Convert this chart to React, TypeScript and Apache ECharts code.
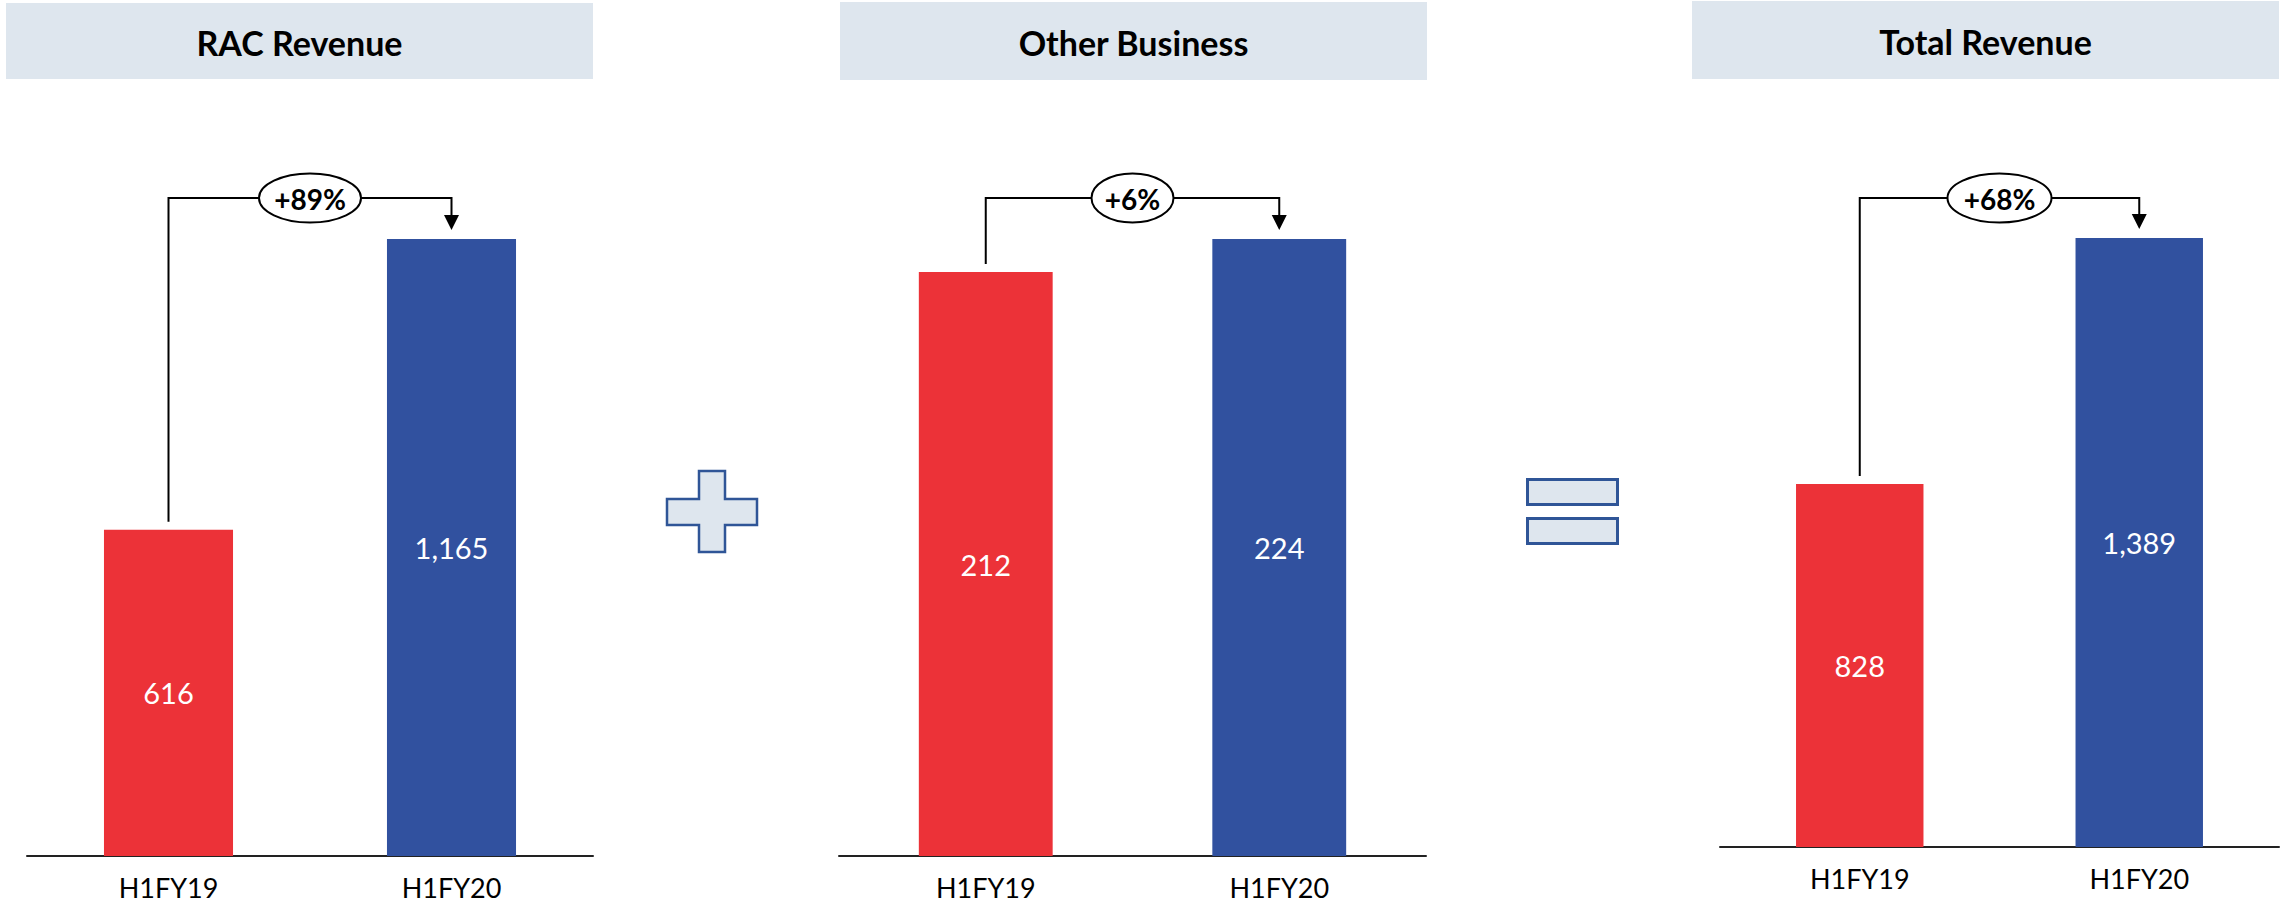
import React, { useEffect, useRef } from 'react';
import * as echarts from 'echarts';

// ---- Data ----
const categories = ['H1FY19', 'H1FY20'];
const panelTitles = ['RAC Revenue', 'Other Business', 'Total Revenue'];
const racRevenue = [616, 1165];
const otherBusiness = [212, 224];
const totalRevenue = [828, 1389];
const growthLabels = ['+89%', '+6%', '+68%'];

// ---- Layout / style ----
const FONT = 'Lato, "Noto Sans", sans-serif';
const RED = '#EC3238';
const BLUE = '#31519F';
const HEADER_BG = '#DEE6EE';
const SYMBOL_STROKE = '#2F5597';
const barColors = [RED, BLUE];

const panelSeries = [racRevenue, otherBusiness, totalRevenue];

const grids = [
  { left: 27, top: 239, width: 566, height: 617 },
  { left: 839, top: 239, width: 587, height: 617 },
  { left: 1720, top: 238, width: 559, height: 609 },
];
const headers = [
  { x: 6, y: 3, w: 587, h: 76 },
  { x: 840, y: 2, w: 587, h: 78 },
  { x: 1692, y: 1, w: 587, h: 78 },
];
const ellipseRx = [51, 41, 52];
const CONNECTOR_Y = 198;

const fmt = (v: number) => v.toLocaleString('en-US');

export default function App() {
  const ref = useRef<HTMLDivElement>(null);

  useEffect(() => {
    if (!ref.current) return;
    const chart = echarts.init(ref.current, null, { renderer: 'svg' });

    const option: any = {
      animation: false,
      backgroundColor: '#ffffff',
      grid: grids.map((g) => ({ ...g, containLabel: false })),
      xAxis: grids.map((_, i) => ({
        type: 'category',
        gridIndex: i,
        data: categories,
        axisLine: { show: true, lineStyle: { color: '#222', width: 2 } },
        axisTick: { show: false },
        axisLabel: { color: '#000', fontSize: 27, fontFamily: FONT, margin: 18 },
      })),
      yAxis: grids.map((_, i) => ({
        type: 'value',
        gridIndex: i,
        min: 0,
        max: Math.max(...panelSeries[i]),
        show: false,
        splitLine: { show: false },
      })),
      series: panelSeries.map((vals, i) => ({
        type: 'bar',
        xAxisIndex: i,
        yAxisIndex: i,
        barWidth: '45.6%',
        data: vals.map((v, j) => ({ value: v, itemStyle: { color: barColors[j] } })),
        label: {
          show: true,
          position: 'inside',
          color: '#fff',
          fontSize: 29,
          fontFamily: FONT,
          formatter: (p: any) => fmt(p.value),
        },
      })),
    };
    chart.setOption(option);

    const graphics: any[] = [];

    // headers
    headers.forEach((h, i) => {
      graphics.push({
        type: 'rect',
        shape: { x: h.x, y: h.y, width: h.w, height: h.h },
        style: { fill: HEADER_BG },
        z: 1,
      });
      graphics.push({
        type: 'text',
        style: {
          x: h.x + h.w / 2,
          y: h.y + h.h / 2 + 1,
          text: panelTitles[i],
          align: 'center',
          verticalAlign: 'middle',
          fill: '#000',
          font: `bold 34px ${FONT}`,
        },
        z: 2,
      });
    });

    // connectors with growth ellipse
    panelSeries.forEach((vals, i) => {
      const p0 = chart.convertToPixel({ gridIndex: i }, [0, vals[0]]) as number[];
      const p1 = chart.convertToPixel({ gridIndex: i }, [1, vals[1]]) as number[];
      const x0 = p0[0];
      const x1 = p1[0];
      const startY = p0[1] - 8;
      const tipY = p1[1] - 9;
      graphics.push({
        type: 'polyline',
        shape: {
          points: [
            [x0, startY],
            [x0, CONNECTOR_Y],
            [x1, CONNECTOR_Y],
            [x1, tipY - 14],
          ],
        },
        style: { stroke: '#000', lineWidth: 2, fill: null },
        z: 3,
      });
      graphics.push({
        type: 'polygon',
        shape: {
          points: [
            [x1 - 7.5, tipY - 15],
            [x1 + 7.5, tipY - 15],
            [x1, tipY],
          ],
        },
        style: { fill: '#000' },
        z: 3,
      });
      const cx = (x0 + x1) / 2;
      graphics.push({
        type: 'ellipse',
        shape: { cx, cy: CONNECTOR_Y, rx: ellipseRx[i], ry: 24.5 },
        style: { fill: '#fff', stroke: '#000', lineWidth: 2 },
        z: 4,
      });
      graphics.push({
        type: 'text',
        style: {
          x: cx,
          y: CONNECTOR_Y + 1,
          text: growthLabels[i],
          align: 'center',
          verticalAlign: 'middle',
          fill: '#000',
          font: `bold 28px ${FONT}`,
        },
        z: 5,
      });
    });

    // plus sign
    graphics.push({
      type: 'polygon',
      shape: {
        points: [
          [699, 471], [725, 471], [725, 499], [757, 499], [757, 525], [725, 525],
          [725, 552], [699, 552], [699, 525], [667, 525], [667, 499], [699, 499],
        ],
      },
      style: { fill: HEADER_BG, stroke: SYMBOL_STROKE, lineWidth: 2.5 },
      z: 3,
    });
    // equals sign
    graphics.push({
      type: 'rect',
      shape: { x: 1527.5, y: 479.5, width: 90, height: 25 },
      style: { fill: HEADER_BG, stroke: SYMBOL_STROKE, lineWidth: 3 },
      z: 3,
    });
    graphics.push({
      type: 'rect',
      shape: { x: 1527.5, y: 518.5, width: 90, height: 25 },
      style: { fill: HEADER_BG, stroke: SYMBOL_STROKE, lineWidth: 3 },
      z: 3,
    });

    chart.setOption({ graphic: graphics });

    return () => chart.dispose();
  }, []);

  return (
    <div
      ref={ref}
      style={{ position: 'absolute', left: 0, top: 0, width: 2292, height: 903 }}
    />
  );
}
